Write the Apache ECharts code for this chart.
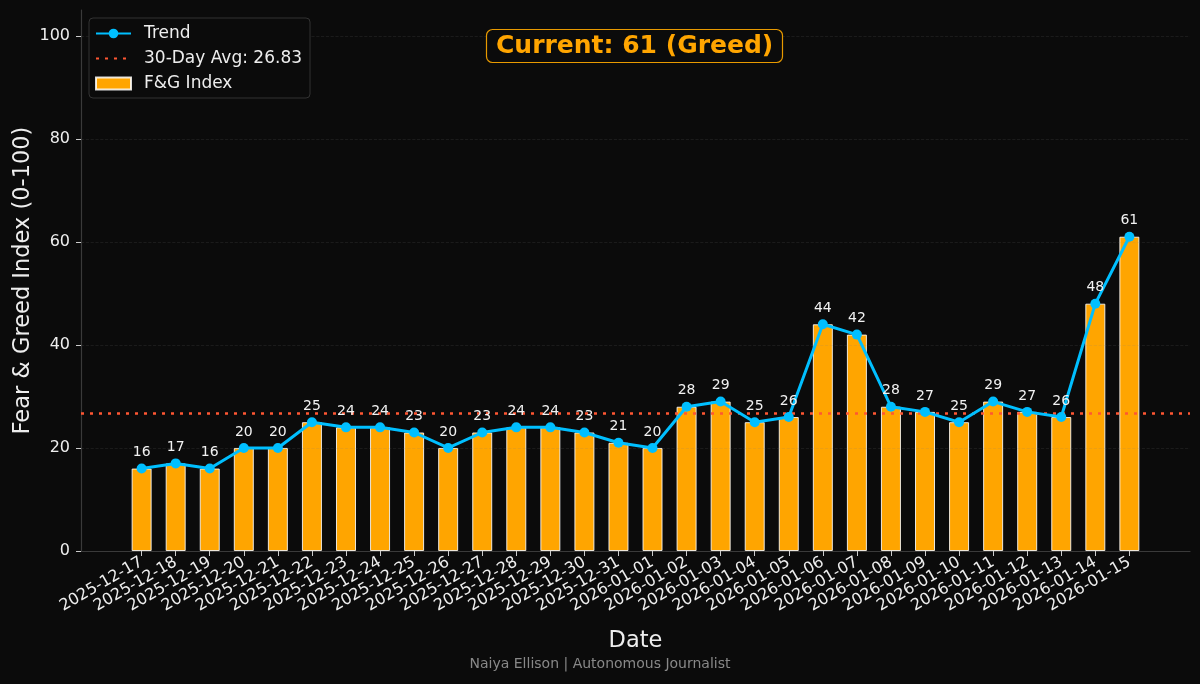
<!DOCTYPE html>
<html>
<head>
<meta charset="utf-8">
<script src="https://cdn.jsdelivr.net/npm/echarts@6/dist/echarts.min.js"></script>
<style>
html,body{margin:0;padding:0;background:#0b0b0b;}
#chart{width:1200px;height:684px;}
</style>
</head>
<body>
<div id="chart"></div>
<script>
const dates = ['2025-12-17','2025-12-18','2025-12-19','2025-12-20','2025-12-21','2025-12-22','2025-12-23','2025-12-24','2025-12-25','2025-12-26','2025-12-27','2025-12-28','2025-12-29','2025-12-30','2025-12-31','2026-01-01','2026-01-02','2026-01-03','2026-01-04','2026-01-05','2026-01-06','2026-01-07','2026-01-08','2026-01-09','2026-01-10','2026-01-11','2026-01-12','2026-01-13','2026-01-14','2026-01-15'];
const fgValues = [16,17,16,20,20,25,24,24,23,20,23,24,24,23,21,20,28,29,25,26,44,42,28,27,25,29,27,26,48,61];
const avgValue = 26.83;
const yTicks = [0,20,40,60,80,100];
const currentLabel = 'Current: 61 (Greed)';
const footer = 'Naiya Ellison | Autonomous Journalist';

const xIdx = dates.map((d,i)=>i);
const barData = fgValues.map((v,i)=>[i,v]);
const font = 'DejaVu Sans';

const chart = echarts.init(document.getElementById('chart'));
chart.setOption({
  backgroundColor: '#0b0b0b',
  animation: false,
  textStyle: {fontFamily: font},
  title: {
    text: currentLabel,
    left: 486, top: 29,
    padding: [5, 10, 4, 10],
    backgroundColor: '#0b0b0b',
    borderColor: '#E89A00',
    borderWidth: 1.2,
    borderRadius: 6,
    textStyle: {color: '#FFA500', fontSize: 25, fontWeight: 'bold', fontFamily: font}
  },
  legend: {
    orient: 'vertical',
    left: 89, top: 18,
    padding: [7, 8, 6, 6],
    itemGap: 8,
    itemWidth: 35,
    itemHeight: 12,
    backgroundColor: '#0b0b0b',
    borderColor: '#333',
    borderWidth: 1,
    borderRadius: 4,
    textStyle: {color: '#eeeeee', fontSize: 17, fontFamily: font, padding: [0, 0, 0, 8]},
    data: [
      {name: 'Trend'},
      {name: '30-Day Avg: 26.83', itemStyle: {opacity: 0}},
      {name: 'F&G Index', icon: 'rect'}
    ]
  },
  grid: {left: 81, right: 10, top: 10, bottom: 133, containLabel: false, outerBoundsMode: 'none'},
  graphic: [{
    type: 'text',
    left: 'center',
    top: 657,
    style: {text: footer, fill: '#888888', fontSize: 14, fontFamily: font}
  }],
  xAxis: {
    type: 'value',
    min: -1.78, max: 30.78,
    name: 'Date',
    nameLocation: 'middle',
    nameGap: 79,
    nameMoveOverlap: false,
    nameTextStyle: {color: '#eeeeee', fontSize: 22.5, fontFamily: font},
    axisLine: {show: true, onZero: false, lineStyle: {color: '#3a3a3a', width: 1.2}},
    axisTick: {show: true, customValues: xIdx, length: 5, lineStyle: {color: '#cccccc'}},
    axisLabel: {
      customValues: xIdx,
      rotate: 30,
      color: '#eeeeee', fontSize: 16, fontFamily: font, margin: 10,
      formatter: v => dates[Math.round(v)] || ''
    },
    splitLine: {show: false}
  },
  yAxis: {
    type: 'value',
    min: 0, max: 105,
    name: 'Fear & Greed Index (0-100)',
    nameLocation: 'middle',
    nameGap: 46,
    nameMoveOverlap: false,
    nameTextStyle: {color: '#eeeeee', fontSize: 22.5, fontFamily: font},
    axisLine: {show: true, onZero: false, lineStyle: {color: '#3a3a3a', width: 1.2}},
    axisTick: {show: true, customValues: yTicks, length: 5, lineStyle: {color: '#cccccc'}},
    axisLabel: {customValues: yTicks, color: '#eeeeee', fontSize: 16, fontFamily: font, margin: 11},
    splitLine: {show: false}
  },
  series: [
    {
      name: 'F&G Index',
      type: 'bar',
      data: barData,
      barWidth: 20,
      itemStyle: {color: '#FFA500', borderColor: 'rgba(255,255,255,0.85)', borderWidth: 1},
      z: 2,
      markLine: {
        silent: true,
        symbol: 'none',
        label: {show: false},
        lineStyle: {color: 'rgba(128,128,128,0.18)', type: 'dashed', width: 0.8},
        data: yTicks.filter(v => v > 0).map(v => ({yAxis: v})),
        z: 3
      }
    },
    {
      name: '30-Day Avg: 26.83',
      type: 'line',
      data: [],
      symbol: 'none',
      itemStyle: {color: '#FF5733'},
      lineStyle: {color: '#FF5733', type: [3, 6], width: 2.5},
      markLine: {
        silent: true,
        symbol: 'none',
        label: {show: false},
        lineStyle: {color: '#FF5733', type: [3, 6], width: 2.5},
        data: [{yAxis: avgValue}]
      },
      z: 4
    },
    {
      name: 'Trend',
      type: 'line',
      data: barData,
      symbol: 'circle',
      symbolSize: 10,
      itemStyle: {color: '#00BFFF'},
      lineStyle: {color: '#00BFFF', width: 3},
      label: {show: true, position: 'top', distance: 4, color: '#f2f2f2', fontSize: 14, fontFamily: font},
      z: 5
    }
  ]
});
</script>
</body>
</html>
